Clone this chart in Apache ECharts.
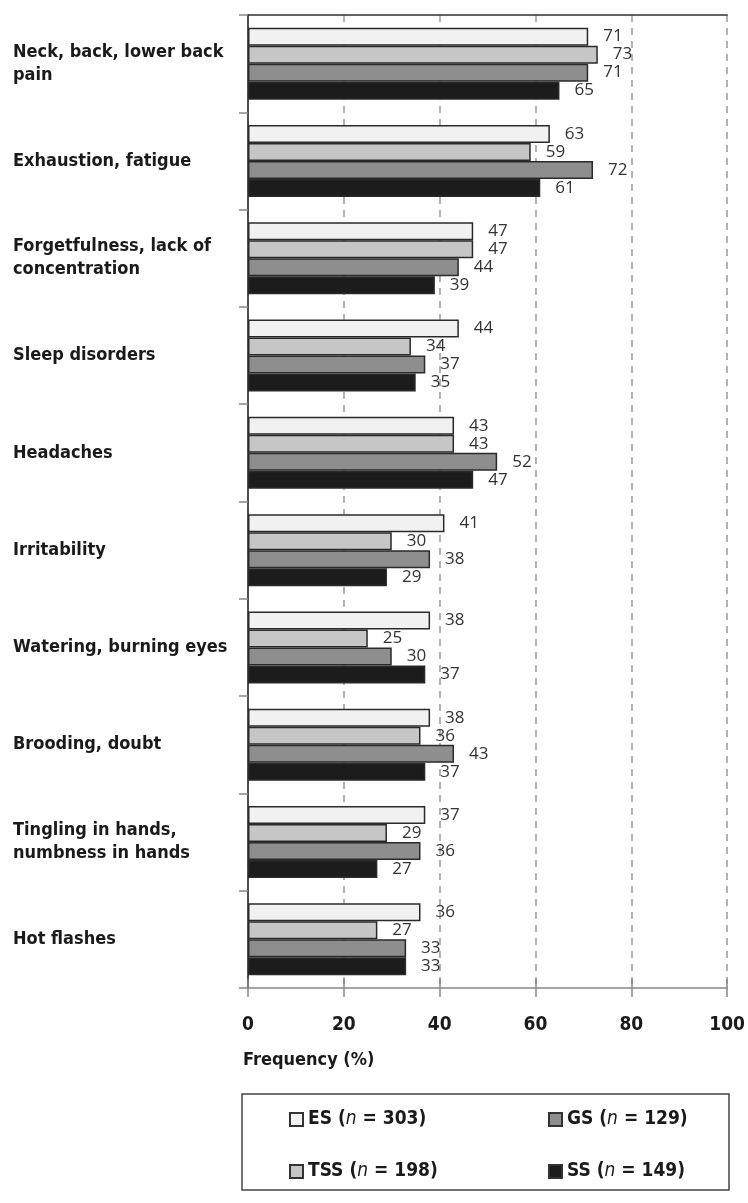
<!DOCTYPE html>
<html>
<head>
<meta charset="utf-8">
<script src="https://cdn.jsdelivr.net/npm/echarts@6/dist/echarts.min.js"></script>
<style>
html,body{margin:0;padding:0;background:#fff;}
#chart{width:748px;height:1203px;}
</style>
</head>
<body>
<div id="chart"></div>
<script>
const categories = [
  'Neck, back, lower back\npain',
  'Exhaustion, fatigue',
  'Forgetfulness, lack of\nconcentration',
  'Sleep disorders',
  'Headaches',
  'Irritability',
  'Watering, burning eyes',
  'Brooding, doubt',
  'Tingling in hands,\nnumbness in hands',
  'Hot flashes'
];
const esValues  = [71, 63, 47, 44, 43, 41, 38, 38, 37, 36];
const tssValues = [73, 59, 47, 34, 43, 30, 25, 36, 29, 27];
const gsValues  = [71, 72, 44, 37, 52, 38, 30, 43, 36, 33];
const ssValues  = [65, 61, 39, 35, 47, 29, 37, 37, 27, 33];
const seriesNames = ['ES', 'TSS', 'GS', 'SS'];
const seriesN = [303, 198, 129, 149];
const xTickValues = [0, 20, 40, 60, 80, 100];
const axisTitle = 'Frequency (%)';

const condensed = "'Liberation Sans Narrow', 'DejaVu Sans Condensed', 'Arial Narrow', sans-serif";
const colors = ['#f1f1f1', '#c6c6c6', '#8e8e8e', '#1c1c1c'];
const allValues = [esValues, tssValues, gsValues, ssValues];

const chart = echarts.init(document.getElementById('chart'), null, {renderer: 'canvas'});

const series = seriesNames.map((name, i) => ({
  name: name,
  type: 'bar',
  xAxisIndex: 0,
  yAxisIndex: 0,
  data: allValues[i],
  barWidth: 18,
  barGap: '0%',
  itemStyle: {color: colors[i], borderColor: '#2a2a2a', borderWidth: 1.5},
  label: {
    show: true,
    position: 'right',
    distance: 15,
    fontFamily: "'Open Sans', 'Liberation Sans', sans-serif",
    fontSize: 17,
    color: '#333'
  },
  emphasis: {disabled: true},
  animation: false
}));

const legendPos = {
  ES:  {left: 284, top: 1105},
  GS:  {left: 543, top: 1105},
  TSS: {left: 284, top: 1157},
  SS:  {left: 543, top: 1157}
};
const legends = seriesNames.map((name, i) => ({
  data: [name],
  left: legendPos[name].left,
  top: legendPos[name].top,
  itemWidth: 13,
  itemHeight: 13,
  icon: 'rect',
  itemStyle: {borderColor: '#333', borderWidth: 2},
  selectedMode: false,
  formatter: function (n) {
    const k = seriesNames.indexOf(n);
    return '{b|' + n + ' (}{i|n}{b| = ' + seriesN[k] + ')}';
  },
  textStyle: {
    rich: {
      b: {fontFamily: condensed, fontWeight: 'bold', fontSize: 19, color: '#1a1a1a', lineHeight: 22},
      i: {fontFamily: condensed, fontStyle: 'italic', fontWeight: 'normal', fontSize: 19, color: '#1a1a1a', lineHeight: 22}
    }
  }
}));

const option = {
  backgroundColor: '#fff',
  animation: false,
  title: {
    text: axisTitle,
    left: 238,
    top: 1046,
    textStyle: {fontFamily: condensed, fontWeight: 'bold', fontSize: 18, color: '#1a1a1a'}
  },
  legend: legends,
  grid: {left: 248, right: 20, top: 15, bottom: 215, containLabel: false},
  graphic: [{
    type: 'rect',
    shape: {x: 242, y: 1094, width: 487, height: 96},
    style: {fill: 'none', stroke: '#444', lineWidth: 1.5},
    silent: true
  }],
  xAxis: [{
    type: 'value',
    position: 'bottom',
    min: 0, max: 100, interval: 20,
    axisLine: {show: true, lineStyle: {color: '#888', width: 1.5}},
    axisTick: {show: true, length: 9, lineStyle: {color: '#888', width: 1.5}},
    axisLabel: {
      margin: 28,
      fontFamily: condensed, fontWeight: 'bold', fontSize: 19, color: '#1a1a1a',
      formatter: v => (xTickValues.indexOf(v) >= 0 ? String(v) : '')
    },
    splitLine: {show: true, lineStyle: {color: '#999', width: 1.5, type: [7, 6]}}
  }, {
    type: 'value',
    position: 'bottom',
    min: 0, max: 100, interval: 20,
    axisLine: {show: false},
    axisTick: {show: true, inside: true, length: 9, lineStyle: {color: '#888', width: 1.5}},
    axisLabel: {show: false},
    splitLine: {show: false}
  }, {
    type: 'value',
    position: 'top',
    min: 0, max: 100, interval: 20,
    axisLine: {show: true, lineStyle: {color: '#333', width: 1.5}},
    axisTick: {show: false},
    axisLabel: {show: false},
    splitLine: {show: false}
  }],
  yAxis: [{
    type: 'category',
    data: categories,
    inverse: true,
    position: 'left',
    axisLine: {show: true, lineStyle: {color: '#888', width: 1.5}},
    axisTick: {show: true, length: 9, lineStyle: {color: '#888', width: 1.5}},
    axisLabel: {
      margin: 235,
      align: 'left',
      fontFamily: condensed, fontWeight: 'bold', fontSize: 18, color: '#1a1a1a',
      lineHeight: 23
    },
    splitLine: {show: false}
  }, {
    type: 'category',
    data: categories,
    inverse: true,
    position: 'right',
    axisLine: {show: true, lineStyle: {color: '#333', width: 1.5}},
    axisTick: {show: false},
    axisLabel: {show: false},
    splitLine: {show: false}
  }],
  series: series
};
chart.setOption(option);
</script>
</body>
</html>
